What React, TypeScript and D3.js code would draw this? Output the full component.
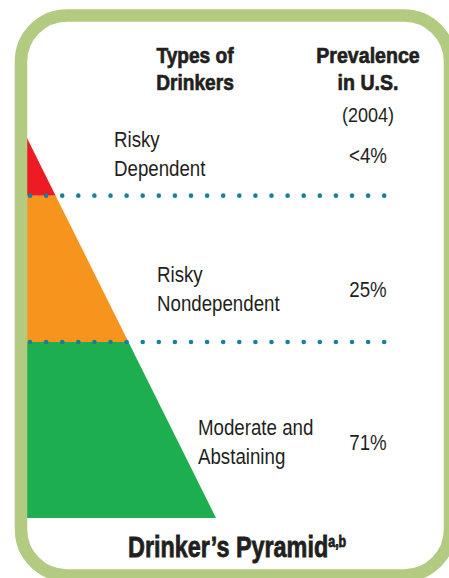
import * as React from 'react';
import * as d3 from 'd3';

// drinker types, top of the pyramid first
const drinkerLines = [['Risky', 'Dependent'], ['Risky', 'Nondependent'], ['Moderate and', 'Abstaining']];
const prevalenceLabels = ['<4%', '25%', '71%'];
// share of the pyramid area each band takes (%)
const bandShares = [2.3, 26.5, 71.2];
const bandColors = ['#ed1c24', '#f7941d', '#1cae4f'];
const headerTypes = ['Types of', 'Drinkers'];
const headerPrev = ['Prevalence', 'in U.S.'];

const W = 449;
const H = 578;
const FONT = "'Liberation Sans', Arial, sans-serif";
const INK = '#231f20';

const apexY = 138;
const baseY = 518;
const leftX = 27;
const baseX = 216;

// where the type label of each band sits: x, first baseline
const labelPos = [[114, 147], [157, 282], [198, 435]];
const valueBaseline = [163, 297, 450];

// the original uses a condensed face, so squeeze Liberation Sans sideways
function Narrow(props: {x: number; y: number; s: number; children: any; [k: string]: any}) {
    const {x, y, s, children, ...rest} = props;
    return (
        <text transform={`translate(${x} ${y}) scale(${s} 1)`} {...rest}>{children}</text>
    );
}

export default function App() {
    // area of a triangle grows with the square of height, so a sqrt scale
    const yScale = d3.scaleSqrt().domain([0, 100]).range([apexY, baseY]);
    const xAt = d3.scaleLinear().domain([apexY, baseY]).range([leftX, baseX]);

    const cum = [0, ...d3.cumsum(bandShares)];
    const line = d3.line<[number, number]>();

    const bands = bandShares.map((d, i) => {
        const y0 = yScale(cum[i]);
        const y1 = yScale(Math.min(100, cum[i + 1]));
        const pts: [number, number][] = [[leftX - 6, y0], [xAt(y0), y0], [xAt(y1), y1], [leftX - 6, y1]];
        return {d: line(pts) + 'Z', color: bandColors[i], y0, y1};
    });

    const dividers = bands.slice(0, -1).map(b => b.y1);

    return (
        <svg width={W} height={H} viewBox={`0 0 ${W} ${H}`}
             style={{position: 'absolute', left: 0, top: 0, display: 'block', background: '#fff'}}>
            {bands.map((b, i) => <path key={i} d={b.d} fill={b.color}/>)}
            <rect x={21} y={15.5} width={429} height={560} rx={46} ry={46}
                  fill="none" stroke="#b3cb80" strokeWidth={12.5}/>
            {dividers.map((y, i) => (
                <line key={i} x1={30} x2={396} y1={y} y2={y} stroke="#1a7f98" strokeWidth={4.6}
                      strokeLinecap="round" strokeDasharray="0 16.1"/>
            ))}
            <g fontFamily={FONT} fill={INK}>
                <g fontWeight="bold" fontSize={22} textAnchor="middle" stroke={INK} strokeWidth={0.7}>
                    {headerTypes.map((t, i) => <Narrow key={t} x={195} y={63 + i * 27} s={0.87}>{t}</Narrow>)}
                    {headerPrev.map((t, i) => <Narrow key={t} x={368} y={63 + i * 27} s={0.89}>{t}</Narrow>)}
                </g>
                <Narrow x={368} y={122} s={0.9} fontSize={20} textAnchor="middle">(2004)</Narrow>
                {drinkerLines.map((lines, i) => lines.map((t, j) => (
                    <Narrow key={`${i}-${j}`} x={labelPos[i][0]} y={labelPos[i][1] + j * 29} s={0.85}
                            fontSize={22}>{t}</Narrow>
                )))}
                {prevalenceLabels.map((t, i) => (
                    <Narrow key={i} x={368} y={valueBaseline[i]} s={0.85} fontSize={22}
                            textAnchor="middle">{t}</Narrow>
                ))}
                <Narrow x={128} y={557} s={0.78} fontSize={30} fontWeight="bold" stroke={INK} strokeWidth={0.8}>
                    Drinker’s Pyramid<tspan fontSize={16} dy={-10}>a,b</tspan>
                </Narrow>
            </g>
        </svg>
    );
}
